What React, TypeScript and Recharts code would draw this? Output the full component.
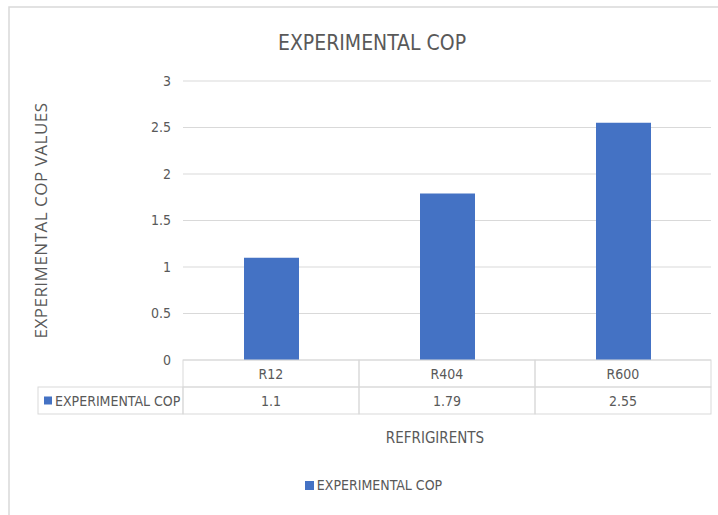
import React from 'react';
import { BarChart, Bar, XAxis, YAxis, CartesianGrid, Legend } from 'recharts';

const refrigerants = ['R12', 'R404', 'R600'];
const experimentalCop = [1.1, 1.79, 2.55];
const yTicks = [0, 0.5, 1, 1.5, 2, 2.5, 3];
const seriesName = 'EXPERIMENTAL COP';

const data = refrigerants.map((name, i) => ({ name, cop: experimentalCop[i] }));

const W = 718;
const H = 515;
const PLOT_LEFT = 183;
const PLOT_RIGHT = 7;
const CELL_W = (W - PLOT_LEFT - PLOT_RIGHT) / refrigerants.length;
const ROW_H = 27;
const BLUE = '#4472C4';
const TEXT = '#595959';
const LINE = '#d9d9d9';
const NARROW = '"Liberation Sans Narrow", "DejaVu Sans Condensed", sans-serif';

// data table under the axis: one column per category
const TableTick = (props: any) => {
  const { x, y, index, payload } = props;
  const left = x - CELL_W / 2;
  const value = experimentalCop[index];
  return (
    <g>
      <rect x={left} y={y} width={CELL_W} height={ROW_H} fill="none" stroke={LINE} />
      <rect x={left} y={y + ROW_H} width={CELL_W} height={ROW_H} fill="none" stroke={LINE} />
      <text x={x} y={y + ROW_H / 2 + 5} textAnchor="middle" fontSize={14} fill={TEXT} fontFamily={NARROW}>
        {payload.value}
      </text>
      <text x={x} y={y + ROW_H * 1.5 + 5} textAnchor="middle" fontSize={14} fill={TEXT} fontFamily={NARROW}>
        {value}
      </text>
      {index === 0 && (
        <g>
          <rect x={38} y={y + ROW_H} width={left - 38} height={ROW_H} fill="none" stroke={LINE} />
          <rect x={44} y={y + ROW_H * 1.5 - 4} width={8} height={8} fill={BLUE} />
          <text x={55} y={y + ROW_H * 1.5 + 5} fontSize={14} fill={TEXT} fontFamily={NARROW}>
            {seriesName}
          </text>
        </g>
      )}
    </g>
  );
};

const LegendContent = () => (
  <div style={{ display: 'flex', justifyContent: 'center', alignItems: 'center', marginLeft: 36, fontFamily: NARROW, fontSize: 14, color: TEXT }}>
    <span style={{ width: 9, height: 9, background: BLUE, display: 'inline-block', marginRight: 3 }} />
    <span>{seriesName}</span>
  </div>
);

const App: React.FC = () => {
  return (
    <div style={{ position: 'absolute', left: 0, top: 0, width: W, height: H, background: '#fff' }}>
      <BarChart
        width={W}
        height={H}
        data={data}
        margin={{ top: 81, right: PLOT_RIGHT, left: 0, bottom: 18 }}
        barSize={55}
      >
        <rect x={9} y={7} width={W + 10} height={H + 10} fill="none" stroke={LINE} strokeWidth={1.5} />
        <text x={372} y={50} textAnchor="middle" fontSize={21} fill={TEXT} fontFamily={NARROW}>
          EXPERIMENTAL COP
        </text>
        <CartesianGrid vertical={false} stroke={LINE} />
        <XAxis
          dataKey="name"
          axisLine={false}
          tickLine={false}
          tickSize={0}
          tickMargin={0}
          height={117}
          tick={<TableTick />}
          interval={0}
          label={{
            value: 'REFRIGIRENTS',
            position: 'insideBottom',
            offset: 34,
            fontSize: 15,
            fill: TEXT,
            fontFamily: NARROW,
            dx: -12,
          }}
        />
        <YAxis
          width={PLOT_LEFT}
          domain={[0, 3]}
          ticks={yTicks}
          axisLine={false}
          tickLine={false}
          tickMargin={6}
          tick={{ fontSize: 14, fill: TEXT, fontFamily: NARROW }}
          label={{
            value: 'EXPERIMENTAL COP VALUES',
            angle: -90,
            position: 'insideLeft',
            offset: 41,
            fontSize: 17,
            fill: TEXT,
            fontFamily: '"Open Sans", sans-serif',
            style: { textAnchor: 'middle', letterSpacing: 0.5 },
          }}
        />
        <Legend verticalAlign="bottom" height={20} content={<LegendContent />} />
        <Bar dataKey="cop" name={seriesName} fill={BLUE} isAnimationActive={false} />
      </BarChart>
    </div>
  );
};

export default App;
